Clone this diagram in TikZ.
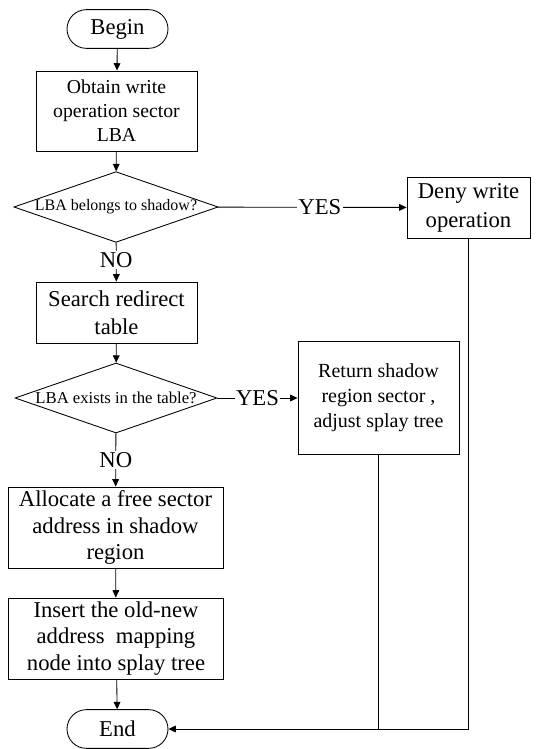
\documentclass[tikz,border=0pt]{standalone}
\usepackage{fontspec}
\setmainfont{Liberation Serif}
\usetikzlibrary{shapes.geometric,arrows.meta}
\newcommand{\mainsize}{\fontsize{17}{20}\selectfont}
\tikzset{
  flowline/.style={line width=0.65pt},
  flowarrow/.style={flowline, -{Triangle[length=5.5pt,width=5pt]}},
  termbox/.style={draw, flowline, rounded corners=14.5pt, minimum width=75.75pt, minimum height=29pt, font=\mainsize},
  stepbox/.style={draw, flowline, align=center, inner sep=1pt, font=\mainsize},
  decbox/.style={draw, flowline, diamond, inner sep=0pt, aspect=2.89, minimum width=151.5pt, minimum height=52.5pt},
  flowlabel/.style={fill=white, inner sep=1pt, font=\mainsize}
}

\begin{document}
\begin{tikzpicture}[x=0.75pt,y=-0.75pt]
      \useasboundingbox (0,0) rectangle (536,749);

      \node[termbox] (begin) at (117.5,29) {Begin};
      \node[stepbox, minimum width=120.75pt, minimum height=60pt, font=\fontsize{14.8}{18}\selectfont] (obtain) at (116.5,111)
        {Obtain write\\operation sector\\LBA};
      \node[decbox, font=\fontsize{12}{12}\selectfont] (shadowq) at (116,207)
        {LBA belongs to shadow?};
      \node[stepbox, minimum width=92.25pt, minimum height=45.75pt, font=\fontsize{17}{21.75}\selectfont] (deny) at (468.5,207.5)
        {Deny write\\operation};
      \node[stepbox, minimum width=120.75pt, minimum height=45.75pt, font=\fontsize{17}{21}\selectfont] (search) at (116.5,312.5)
        {Search redirect\\table};
      \node[decbox, font=\fontsize{12.5}{12.5}\selectfont] (tableq) at (116,398)
        {LBA exists in the table?};
      \node[stepbox, minimum width=120.75pt, minimum height=84.75pt, font=\fontsize{15}{18.75}\selectfont] (ret) at (378.5,398)
        {Return shadow\\region sector ,\\adjust splay tree};
      \node[stepbox, minimum width=161.25pt, minimum height=60.75pt, font=\fontsize{17}{20}\selectfont] (alloc) at (115.5,527.5)
        {Allocate a free sector\\address in shadow\\region};
      \node[stepbox, minimum width=161.25pt, minimum height=60.75pt, font=\fontsize{17}{20}\selectfont] (insert) at (116,638.5)
        {Insert the old-new\\address\ \ mapping\\node into splay tree};
      \node[termbox] (finish) at (117.5,729) {End};

      \draw[flowarrow] (begin) -- (obtain);
      \draw[flowarrow] (obtain) -- (shadowq);
      \draw[flowarrow] (shadowq) -- node[flowlabel, pos=0.54] {YES} (deny);
      \draw[flowarrow] (shadowq) -- node[flowlabel, pos=0.45] {NO} (search);
      \draw[flowarrow] (search) -- (tableq);
      \draw[flowarrow] (tableq) -- node[flowlabel, pos=0.5] {YES} (ret);
      \draw[flowarrow] (tableq) -- node[flowlabel, pos=0.5] {NO} (alloc);
      \draw[flowarrow] (alloc) -- (insert);
      \draw[flowarrow] (insert) -- (finish);
      \draw[flowline] (ret.south) -- (ret.south |- finish.east);
      \draw[flowarrow] (deny.south) |- (finish.east);
\end{tikzpicture}
\end{document}
